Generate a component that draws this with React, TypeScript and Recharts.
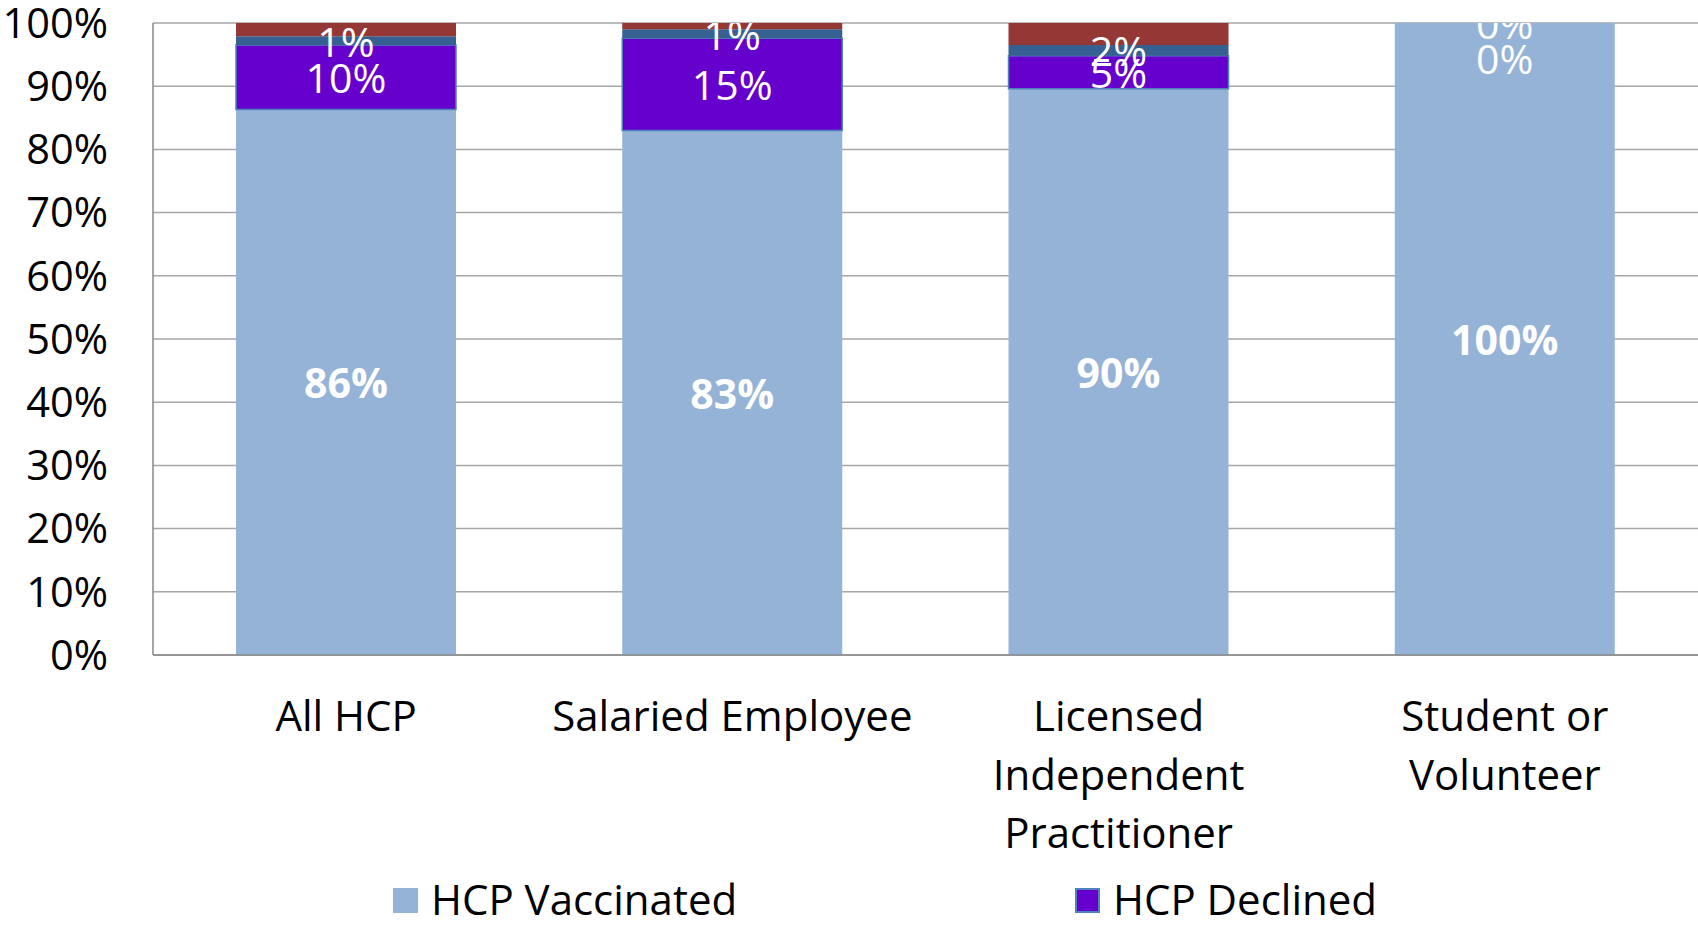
import React from "react";
import { BarChart, Bar, XAxis, YAxis, CartesianGrid, Legend, LabelList } from "recharts";

const categories = ["All HCP", "Salaried Employee", "Licensed Independent Practitioner", "Student or Volunteer"];
const tickLines = [["All HCP"], ["Salaried Employee"], ["Licensed", "Independent", "Practitioner"], ["Student or", "Volunteer"]];
const vaccinated = [86.3, 83.0, 89.6, 100];
const declined = [10.2, 14.6, 5.2, 0];
const unknown = [1.4, 1.4, 1.7, 0];
const other = [2.1, 1.0, 3.5, 0];
const yTicks = [0, 10, 20, 30, 40, 50, 60, 70, 80, 90, 100];

const data = categories.map((c, i) => ({
  name: c,
  vaccinated: vaccinated[i],
  declined: declined[i],
  unknown: unknown[i],
  other: other[i],
}));

const W = 1698;
const H = 926;
const MT = 23;
const YW = 153;
const LEG_H = 50;
const XH = 221;
const FONT = "'Open Sans', sans-serif";
const LABEL_FS = 41;

const LabelText = ({ x, y, bold, value, id }: any) => (
  <g>
    <defs>
      <clipPath id={id}>
        <rect x={0} y={MT} width={W} height={H} />
      </clipPath>
    </defs>
    <text
      x={x}
      y={y}
      textAnchor="middle"
      dominantBaseline="central"
      fill="#FFFFFF"
      fontSize={LABEL_FS}
      fontFamily={FONT}
      fontWeight={bold ? 700 : 400}
      clipPath={`url(#${id})`}
    >
      {Math.round(value)}%
    </text>
  </g>
);

const makeLabel = (kind: string, values: number[]) => (props: any) => {
  const { x, y, width, height, index } = props;
  const v = values[index];
  if (v === undefined || v === 0) return null;
  const cx = Number(x) + Number(width) / 2;
  const cy = Number(y) + Number(height) / 2;
  const extra: any[] = [];
  if (kind === "vacc") {
    // zero-height segments stacked above still get their labels (at the top of the stack)
    if (declined[index] === 0) {
      extra.push(<LabelText key="d0" x={cx} y={Number(y) + 35} value={declined[index]} id={`clip-d0-${index}`} />);
    }
    if (unknown[index] === 0) {
      extra.push(<LabelText key="u0" x={cx} y={Number(y)} value={unknown[index]} id={`clip-u0-${index}`} />);
    }
  }
  return (
    <g>
      <LabelText x={cx} y={cy} bold={kind === "vacc"} value={v} id={`clip-${kind}-${index}`} />
      {extra}
    </g>
  );
};

const XTick = (props: any) => {
  const { x, y, index } = props;
  const lines = tickLines[index] || [];
  return (
    <g>
      {lines.map((l, i) => (
        <text
          key={i}
          x={x}
          y={Number(y) + 76 + i * 58.5}
          textAnchor="middle"
          fill="#000"
          fontSize={42}
          fontFamily={FONT}
        >
          {l}
        </text>
      ))}
    </g>
  );
};

const LegendContent = () => (
  <div style={{ position: "relative", width: W, height: LEG_H, fontFamily: FONT, fontSize: 42, color: "#000" }}>
    <div style={{ position: "absolute", left: 393, top: 12, width: 25, height: 25, background: "#95B3D7" }} />
    <div style={{ position: "absolute", left: 431, top: 23, transform: "translateY(-50%)", lineHeight: "50px", whiteSpace: "nowrap" }}>
      HCP Vaccinated
    </div>
    <div
      style={{
        position: "absolute",
        left: 1075,
        top: 12,
        width: 25,
        height: 25,
        background: "#6600CC",
        boxSizing: "border-box",
        border: "2px solid #4F81BD",
      }}
    />
    <div style={{ position: "absolute", left: 1113, top: 23, transform: "translateY(-50%)", lineHeight: "50px", whiteSpace: "nowrap" }}>
      HCP Declined
    </div>
  </div>
);

export default function App() {
  return (
    <div style={{ position: "absolute", left: 0, top: 0, width: W, height: H, background: "#fff" }}>
      <BarChart
        width={W}
        height={H}
        data={data}
        margin={{ top: MT, right: 0, bottom: 0, left: 0 }}
        style={{ fontFamily: FONT }}
      >
        <CartesianGrid vertical={false} stroke="#A6A6A6" strokeWidth={1.5} />
        <XAxis
          dataKey="name"
          height={XH}
          tickLine={false}
          tickSize={0}
          tickMargin={0}
          interval={0}
          axisLine={{ stroke: "#888888", strokeWidth: 1.5 }}
          tick={<XTick />}
        />
        <YAxis
          width={YW}
          domain={[0, 100]}
          ticks={yTicks}
          tickFormatter={(v: number) => `${v}%`}
          tickLine={false}
          tickMargin={39}
          axisLine={{ stroke: "#888888", strokeWidth: 1.5 }}
          tick={{ fill: "#000", fontSize: 41.5, fontFamily: FONT }}
          interval={0}
        />
        <Legend
          verticalAlign="bottom"
          height={LEG_H}
          wrapperStyle={{ left: 0, bottom: 0, width: W, height: LEG_H }}
          content={<LegendContent />}
        />
        <Bar dataKey="vaccinated" stackId="a" fill="#95B3D7" barSize={220} isAnimationActive={false}>
          <LabelList content={makeLabel("vacc", vaccinated)} />
        </Bar>
        <Bar dataKey="declined" stackId="a" fill="#6600CC" stroke="#4F81BD" strokeWidth={1.5} barSize={220} isAnimationActive={false}>
          <LabelList content={makeLabel("declined", declined)} />
        </Bar>
        <Bar dataKey="unknown" stackId="a" fill="#376092" barSize={220} isAnimationActive={false}>
          <LabelList content={makeLabel("unknown", unknown)} />
        </Bar>
        <Bar dataKey="other" stackId="a" fill="#953735" barSize={220} isAnimationActive={false} />
      </BarChart>
    </div>
  );
}
